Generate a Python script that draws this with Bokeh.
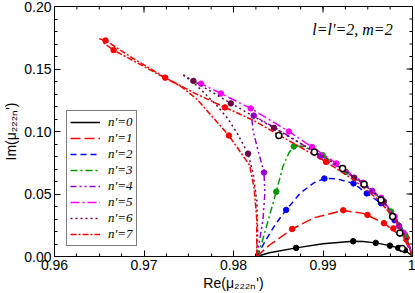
import math
from bokeh.plotting import figure
from bokeh.models import FixedTicker, Legend, LegendItem, Range1d
from bokeh.core.properties import value
from bokeh.embed import file_html
from bokeh.resources import INLINE

# ---------------- data ----------------
x_major = [0.96, 0.97, 0.98, 0.99, 1.0]
x_labels = ["0.96", "0.97", "0.98", "0.99", "1"]
y_major = [0.00, 0.05, 0.10, 0.15, 0.20]
y_labels = ["0.00", "0.05", "0.10", "0.15", "0.20"]

series_names = ["n'=0", "n'=1", "n'=2", "n'=3", "n'=4", "n'=5", "n'=6", "n'=7"]
note_text = "l=l'=2, m=2"
note_re = 0.99778
note_im = 0.1817

# n'=0
n0_re = [0.9826, 0.9840, 0.9870, 0.9900, 0.99337, 0.9945, 0.99589, 0.99748, 0.99841, 0.99915, 0.9997, 1.0]
n0_im = [0.0, 0.0030, 0.0069, 0.0102, 0.0122, 0.0120, 0.0109, 0.0087, 0.0069, 0.0050, 0.0020, 0.0]
n0_mre = [0.9870, 0.99337, 0.99589, 0.99748, 0.99841, 0.99915]
n0_mim = [0.0069, 0.0122, 0.0109, 0.0087, 0.0069, 0.0050]

# n'=1
n1_re = [0.9826, 0.9840, 0.98656, 0.9890, 0.99226, 0.9945, 0.99681, 0.9983, 0.9993, 1.0]
n1_im = [0.0, 0.0090, 0.0220, 0.0310, 0.0368, 0.0345, 0.0267, 0.0185, 0.0110, 0.0]
n1_mre = [0.98656, 0.99226, 0.99497, 0.99681, 0.99786, 0.99933]
n1_mim = [0.0220, 0.0370, 0.0333, 0.0267, 0.0225, 0.0150]

# n'=2
n2_re = [0.9826, 0.9836, 0.9847, 0.98589, 0.9875, 0.9890, 0.99015, 0.9915, 0.99341, 0.99489, 0.99648, 0.9977, 0.9988, 0.9995, 1.0]
n2_im = [0.0, 0.0130, 0.0260, 0.0373, 0.0510, 0.0590, 0.0624, 0.0622, 0.0585, 0.0505, 0.0426, 0.0340, 0.0230, 0.0120, 0.0]
n2_mre = [0.98589, 0.99015, 0.99341, 0.99489, 0.99648, 0.9980]
n2_mim = [0.0373, 0.0624, 0.0585, 0.0505, 0.0426, 0.0290]

# n'=3
n3_re = [0.9826, 0.9832, 0.9838, 0.98478, 0.98552, 0.9862, 0.98674, 0.9875, 0.9885, 0.98997, 0.99256, 0.9950, 0.9970, 0.9985, 0.9995, 1.0]
n3_im = [0.0, 0.0120, 0.0270, 0.0518, 0.0720, 0.0830, 0.0881, 0.0885, 0.0860, 0.0810, 0.0677, 0.0560, 0.0420, 0.0270, 0.0120, 0.0]
n3_mre = [0.98478, 0.98674, 0.98997, 0.99256, 0.9976, 0.9992]
n3_mim = [0.0518, 0.0881, 0.0810, 0.0677, 0.0360, 0.0170]

# n'=4 (lower and upper branches)
n4a_re = [0.9826, 0.9829, 0.9833, 0.9835, 0.98341, 0.9827, 0.9822, 0.9820]
n4a_im = [0.0, 0.0120, 0.0300, 0.0500, 0.0672, 0.0860, 0.1000, 0.1135]
n4b_re = [0.9820, 0.98226, 0.9850, 0.9875, 0.9897, 0.9925, 0.9955, 0.9973, 0.9985, 0.9994, 1.0]
n4b_im = [0.1135, 0.1127, 0.1015, 0.0905, 0.0800, 0.0680, 0.0525, 0.0390, 0.0245, 0.0120, 0.0]
n4_mre = [0.98226, 0.98341, 0.9897, 0.9955, 0.9985]
n4_mim = [0.1127, 0.0672, 0.0800, 0.0525, 0.0245]

# n'=5
n5_re = [0.9760, 0.97637, 0.97859, 0.98192, 0.98619, 0.98878, 0.9915, 0.9945, 0.9965, 0.9980, 0.9990, 0.9996, 1.0]
n5_im = [0.1392, 0.1383, 0.1304, 0.1185, 0.1000, 0.0876, 0.0745, 0.0590, 0.0470, 0.0320, 0.0190, 0.0090, 0.0]
n5_mre = [0.97637, 0.97859, 0.98192, 0.98619, 0.98878, 0.9915, 0.9945, 0.9965, 0.9980, 0.9990]
n5_mim = [0.1383, 0.1304, 0.1185, 0.1000, 0.0876, 0.0745, 0.0590, 0.0470, 0.0320, 0.0190]

# n'=6 (lower and upper branches)
n6a_re = [0.9826, 0.9827, 0.9826, 0.9822, 0.98163, 0.9805, 0.9794, 0.9783, 0.9770, 0.9757, 0.9744]
n6a_im = [0.0, 0.0200, 0.0450, 0.0660, 0.0823, 0.0975, 0.1100, 0.1195, 0.1290, 0.1380, 0.1452]
n6b_re = [0.9744, 0.97552, 0.9797, 0.98452, 0.9885, 0.9915, 0.9945, 0.9965, 0.9980, 0.9990, 0.9996, 1.0]
n6b_im = [0.1452, 0.1405, 0.1225, 0.1029, 0.0862, 0.0735, 0.0583, 0.0462, 0.0315, 0.0185, 0.0088, 0.0]
n6_mre = [0.97552, 0.9797, 0.98452, 0.98163, 0.9935, 0.9968]
n6_mim = [0.1405, 0.1225, 0.1029, 0.0823, 0.0630, 0.0440]

# n'=7 (lower and upper branches)
n7a_re = [0.9826, 0.9826, 0.9823, 0.9818, 0.97948, 0.9759, 0.9742, 0.9700, 0.9666, 0.9654]
n7a_im = [0.0, 0.0300, 0.0550, 0.0730, 0.0968, 0.1259, 0.1357, 0.1520, 0.1651, 0.1715]
n7b_re = [0.9650, 0.9657, 0.9690, 0.97237, 0.9757, 0.97904, 0.9822, 0.9855, 0.99033, 0.9935, 0.9960, 0.9978, 0.9990, 0.9997, 1.0]
n7b_im = [0.1742, 0.1728, 0.1575, 0.1431, 0.1305, 0.1193, 0.1090, 0.0955, 0.0757, 0.0610, 0.0465, 0.0320, 0.0180, 0.0070, 0.0]
n7_mre = [0.9657, 0.9666, 0.97237, 0.97904, 0.97948, 0.99033]
n7_mim = [0.1728, 0.1651, 0.1431, 0.1193, 0.0968, 0.0757]

# open circles
oc_re = [0.98507, 0.98904, 0.99219, 0.99459, 0.99648, 0.99778, 0.99859, 0.99885]
oc_im = [0.0968, 0.0836, 0.0704, 0.0579, 0.0452, 0.0320, 0.0188, 0.0065]

# ---------------- figure ----------------
p = figure(width=415, height=293, output_backend="svg", toolbar_location=None,
           x_range=Range1d(x_major[0], x_major[-1]), y_range=Range1d(y_major[0], y_major[-1]),
           min_border_left=52, min_border_right=3, min_border_top=6, min_border_bottom=36)
p.background_fill_color = "white"
p.border_fill_color = "white"
p.outline_line_color = "black"
p.outline_line_width = 1
p.xgrid.visible = False
p.ygrid.visible = False

x_minor = [x_major[0] + 0.0025 * i for i in range(17)]
y_minor = [0.01 * i for i in range(21)]
xt = FixedTicker(ticks=x_major, minor_ticks=x_minor)
yt = FixedTicker(ticks=y_major, minor_ticks=y_minor)

tick_font = "Liberation Sans"
for ax, tk, labs in ((p.xaxis[0], xt, x_labels), (p.yaxis[0], yt, y_labels)):
    ax.ticker = tk
    ax.major_label_overrides = {v: s for v, s in zip(tk.ticks, labs)}
    ax.major_tick_in = 6
    ax.major_tick_out = 0
    ax.minor_tick_in = 3
    ax.minor_tick_out = 0
    ax.major_label_text_font = tick_font
    ax.major_label_text_font_size = "14px"
    ax.major_label_text_color = "black"
    ax.major_label_standoff = 3
    ax.axis_line_color = "black"
    ax.major_tick_line_color = "black"
    ax.minor_tick_line_color = "black"
    ax.axis_label_text_font = tick_font
    ax.axis_label_text_font_size = "14px"
    ax.axis_label_text_font_style = "normal"
    ax.axis_label_text_color = "black"
    ax.axis_label_standoff = 2

p.xaxis[0].axis_label = "Re(\u03bc\u2082\u2082\u2082\u2099')"
p.yaxis[0].axis_label = "Im(\u03bc\u2082\u2082\u2082\u2099')"

# mirrored ticks on the top and right frame edges
x_top = p.y_range.end
y_right = p.x_range.end
p.ray(x=x_major, y=[x_top] * len(x_major), length=6, length_units="screen",
      angle=-math.pi / 2, line_color="black", line_width=1)
p.ray(x=x_minor, y=[x_top] * len(x_minor), length=3, length_units="screen",
      angle=-math.pi / 2, line_color="black", line_width=1)
p.ray(x=[y_right] * len(y_major), y=y_major, length=6, length_units="screen",
      angle=math.pi, line_color="black", line_width=1)
p.ray(x=[y_right] * len(y_minor), y=y_minor, length=3, length_units="screen",
      angle=math.pi, line_color="black", line_width=1)

lw = 1.5

def line(xs, ys, color, dash):
    return p.line(xs, ys, line_color=color, line_width=lw, line_dash=dash)

def dots(xs, ys, color):
    p.scatter(xs, ys, marker="circle", size=5.5, fill_color=color, line_color=color)

r0 = line(n0_re, n0_im, "black", "solid"); dots(n0_mre, n0_mim, "black")
r1 = line(n1_re, n1_im, "#ff0000", "10 4"); dots(n1_mre, n1_mim, "#ff0000")
r2 = line(n2_re, n2_im, "#0000ff", "6 4"); dots(n2_mre, n2_mim, "#0000ff")
r3 = line(n3_re, n3_im, "#009900", "7 3 2 3"); dots(n3_mre, n3_mim, "#009900")
r4 = line(n4a_re, n4a_im, "#9400d3", "6 3 2 3 2 3"); line(n4b_re, n4b_im, "#9400d3", "6 3 2 3 2 3")
dots(n4_mre, n4_mim, "#9400d3")
r5 = line(n5_re, n5_im, "#ff00ff", "9 3 2 3"); dots(n5_mre, n5_mim, "#ff00ff")
r6 = line(n6a_re, n6a_im, "#670748", "2 3"); line(n6b_re, n6b_im, "#670748", "2 3")
dots(n6_mre, n6_mim, "#670748")
r7 = line(n7a_re, n7a_im, "#ff0000", "6 2 2 2"); line(n7b_re, n7b_im, "#ff0000", "6 2 2 2")
dots(n7_mre, n7_mim, "#ff0000")
p.scatter(oc_re, oc_im, marker="circle", size=6, fill_color="white", line_color="black", line_width=1.5)

rends = [r0, r1, r2, r3, r4, r5, r6, r7]
legend = Legend(items=[LegendItem(label=n, renderers=[r]) for n, r in zip(series_names, rends)],
                location=(12, 10), orientation="vertical",
                label_text_font="Liberation Serif", label_text_font_style="italic",
                label_text_font_size="13px", label_text_line_height=1.0,
                label_text_color="black",
                glyph_width=30, glyph_height=14, label_height=14, label_standoff=8,
                spacing=-4, padding=3, margin=0,
                border_line_color="black", border_line_width=1,
                background_fill_color="white", background_fill_alpha=1.0)
p.add_layout(legend, "center")

p.text(x=[note_re], y=[note_im], text=[note_text], text_align="right",
       text_baseline="middle", text_font=value("Liberation Serif"),
       text_font_style="italic", text_font_size="16px", text_color="black")

open("out.html", "w").write(file_html(p, INLINE))
